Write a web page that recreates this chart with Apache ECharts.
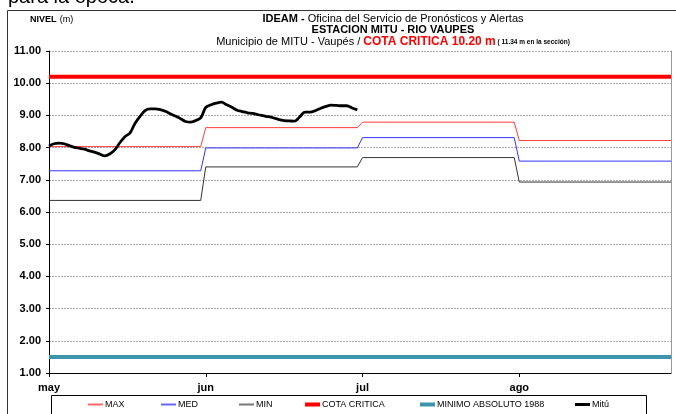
<!DOCTYPE html>
<html>
<head>
<meta charset="utf-8">
<title>Nivel Mitú</title>
<script src="https://cdn.jsdelivr.net/npm/echarts@6/dist/echarts.min.js"></script>
<style>
  html, body { margin: 0; padding: 0; background: #fff; }
  #chart { width: 676px; height: 414px; }
</style>
</head>
<body>
<div id="chart"></div>
<script>
// Months on the x axis and their lengths (each month takes one axis unit)
const meses = ['may', 'jun', 'jul', 'ago'];
const diasMes = [31, 30, 31, 31];

// Historical monthly levels (m), one value per month
const maxNivel = [8.03, 8.62, 8.79, 8.22];
const medNivel = [7.28, 7.99, 8.31, 7.58];
const minNivel = [6.36, 7.40, 7.69, 6.93];

// Reference levels (m)
const cotaCritica = 10.20;
const minimoAbsoluto = 1.50;

// Daily level at Mitú, from 1 May onwards (m)
const mituNivel = [
  8.05, 8.12, 8.14, 8.12, 8.06, 8.01, 7.98, 7.95, 7.90, 7.86,
  7.80, 7.74, 7.80, 7.93, 8.15, 8.34, 8.45, 8.75, 8.97, 9.15,
  9.20, 9.20, 9.18, 9.13, 9.05, 8.98, 8.90, 8.81, 8.79, 8.84,
  8.92,
  9.25, 9.33, 9.38, 9.41, 9.33, 9.25, 9.16, 9.12, 9.08, 9.06,
  9.02, 8.99, 8.96, 8.92, 8.87, 8.84, 8.83, 8.82, 8.96, 9.10,
  9.10, 9.15, 9.22, 9.28, 9.32, 9.31, 9.30, 9.30, 9.23, 9.17
];

// Y axis tick values
const nivelTicks = [1, 2, 3, 4, 5, 6, 7, 8, 9, 10, 11];

// Axis position of a given day (1-based) in month index m
function pos(m, dia) { return m + (dia - 1) / diasMes[m]; }
const xFin = pos(3, diasMes[3]);

// Monthly constant series: flat across each month, joined at month changes
function escalones(vals) {
  const pts = [];
  vals.forEach((v, m) => {
    pts.push([pos(m, 1), v]);
    pts.push([pos(m, diasMes[m]), v]);
  });
  return pts;
}

// Daily series starting on 1 May
function diario(vals) {
  const pts = [];
  let m = 0, d = 1;
  vals.forEach(v => {
    pts.push([pos(m, d), v]);
    d++;
    if (d > diasMes[m]) { m++; d = 1; }
  });
  return pts;
}

const FONT = 'Arial, "Liberation Sans", sans-serif';
const NARROW = '"Liberation Sans Narrow", "Arial Narrow", Arial, sans-serif';

const chart = echarts.init(document.getElementById('chart'), null, { renderer: 'canvas' });

const legendItems = [
  { name: 'MAX', left: 88, h: 2 },
  { name: 'MED', left: 161, h: 2 },
  { name: 'MIN', left: 239, h: 2 },
  { name: 'COTA CRITICA', left: 305, h: 4 },
  { name: 'MINIMO ABSOLUTO 1988', left: 420, h: 4 },
  { name: 'Mitú', left: 575, h: 3 }
];

const option = {
  backgroundColor: '#fff',
  animation: false,
  grid: { left: 49, right: 5, top: 51, bottom: 41, containLabel: false },
  xAxis: {
    type: 'value',
    min: 0,
    max: xFin,
    interval: 1,
    axisLine: { show: true, lineStyle: { color: '#000', width: 1 } },
    axisTick: { show: true, customValues: [0, 1, 2, 3], length: 4, inside: false, lineStyle: { color: '#000' } },
    axisLabel: {
      customValues: [0, 1, 2, 3],
      formatter: v => meses[Math.round(v)],
      fontFamily: FONT, fontWeight: 'bold', fontSize: 11, color: '#000', margin: 9
    },
    splitLine: { show: false }
  },
  yAxis: [
    {
      type: 'value',
      min: 1, max: 11, interval: 1,
      axisLine: { show: true, lineStyle: { color: '#000', width: 1 } },
      axisTick: { show: true, length: 3, lineStyle: { color: '#000' } },
      axisLabel: {
        customValues: nivelTicks,
        formatter: v => v.toFixed(2),
        fontFamily: FONT, fontWeight: 'bold', fontSize: 11, color: '#000', margin: 8
      },
      splitLine: { show: true, lineStyle: { color: '#aaa', type: [2, 1], width: 1 } }
    },
    {
      type: 'value',
      position: 'right',
      min: 1, max: 11,
      axisLine: { show: true, lineStyle: { color: '#999', width: 1 } },
      axisTick: { show: false },
      axisLabel: { show: false },
      splitLine: { show: false }
    }
  ],
  legend: legendItems.map(it => ({
    data: [it.name],
    left: it.left,
    top: 400,
    icon: 'rect',
    itemWidth: 15,
    itemHeight: it.h,
    padding: 0,
    selectedMode: false,
    textStyle: { fontFamily: FONT, fontSize: 9, color: '#000', padding: [0, 0, 0, -3] }
  })),
  series: [
    {
      name: 'MAX', type: 'line', data: escalones(maxNivel), symbol: 'none',
      lineStyle: { color: '#ff3b3b', width: 1 }, itemStyle: { color: '#ff6666' }, z: 2
    },
    {
      name: 'MED', type: 'line', data: escalones(medNivel), symbol: 'none',
      lineStyle: { color: '#3333ff', width: 1 }, itemStyle: { color: '#6666ff' }, z: 2
    },
    {
      name: 'MIN', type: 'line', data: escalones(minNivel), symbol: 'none',
      lineStyle: { color: '#333333', width: 1 }, itemStyle: { color: '#777777' }, z: 2
    },
    {
      name: 'COTA CRITICA', type: 'line', data: [[0, cotaCritica], [xFin, cotaCritica]], symbol: 'none',
      lineStyle: { color: '#ff0000', width: 4 }, itemStyle: { color: '#ff0000' }, z: 3
    },
    {
      name: 'MINIMO ABSOLUTO 1988', type: 'line', data: [[0, minimoAbsoluto], [xFin, minimoAbsoluto]], symbol: 'none',
      lineStyle: { color: '#3b96ad', width: 4 }, itemStyle: { color: '#3b96ad' }, z: 3
    },
    {
      name: 'Mitú', type: 'line', data: diario(mituNivel), symbol: 'none', smooth: 0.3,
      lineStyle: { color: '#000', width: 2.8 }, itemStyle: { color: '#000' }, z: 4
    }
  ],
  graphic: [
    // text from the surrounding page, clipped at the top edge
    { type: 'text', left: 8, top: -13, style: { text: 'para la época.', font: '20px ' + FONT, fill: '#000' } },
    // outer frame
    { type: 'polyline', shape: { points: [[7.5, 414], [7.5, 10.5], [676, 10.5]] }, style: { stroke: '#333', lineWidth: 1, fill: null } },
    // legend box
    { type: 'rect', shape: { x: 51.5, y: 395.5, width: 595, height: 30 }, style: { stroke: '#000', lineWidth: 1, fill: null }, z: -1 },
    // axis title
    {
      type: 'text', x: 30, y: 20,
      style: {
        text: '{b|NIVEL} {n|(m)}', verticalAlign: 'middle',
        rich: {
          b: { font: 'bold 9px ' + FONT, fill: '#000' },
          n: { font: '9px ' + FONT, fill: '#000' }
        }
      }
    },
    // chart titles
    {
      type: 'text', x: 393, y: 19,
      style: {
        text: '{b|IDEAM - }{n|Oficina del Servicio de Pronósticos y Alertas}', align: 'center', verticalAlign: 'middle',
        rich: {
          b: { font: 'bold 11px ' + NARROW, fill: '#000' },
          n: { font: '11px ' + NARROW, fill: '#000' }
        }
      }
    },
    {
      type: 'text', x: 393, y: 30,
      style: { text: 'ESTACION MITU - RIO VAUPES', align: 'center', verticalAlign: 'middle', font: 'bold 11px ' + NARROW, fill: '#000' }
    },
    {
      type: 'text', x: 393, y: 42,
      style: {
        text: '{n|Municipio de MITU - Vaupés / }{r|COTA CRITICA 10.20 m}{s| ( 11.34 m en la sección)}', align: 'center', verticalAlign: 'middle',
        rich: {
          n: { font: '11px ' + NARROW, fill: '#000' },
          r: { font: 'bold 12px ' + NARROW, fill: '#ff0000' },
          s: { font: 'bold 6.5px ' + FONT, fill: '#000' }
        }
      }
    }
  ]
};

chart.setOption(option);
</script>
</body>
</html>
